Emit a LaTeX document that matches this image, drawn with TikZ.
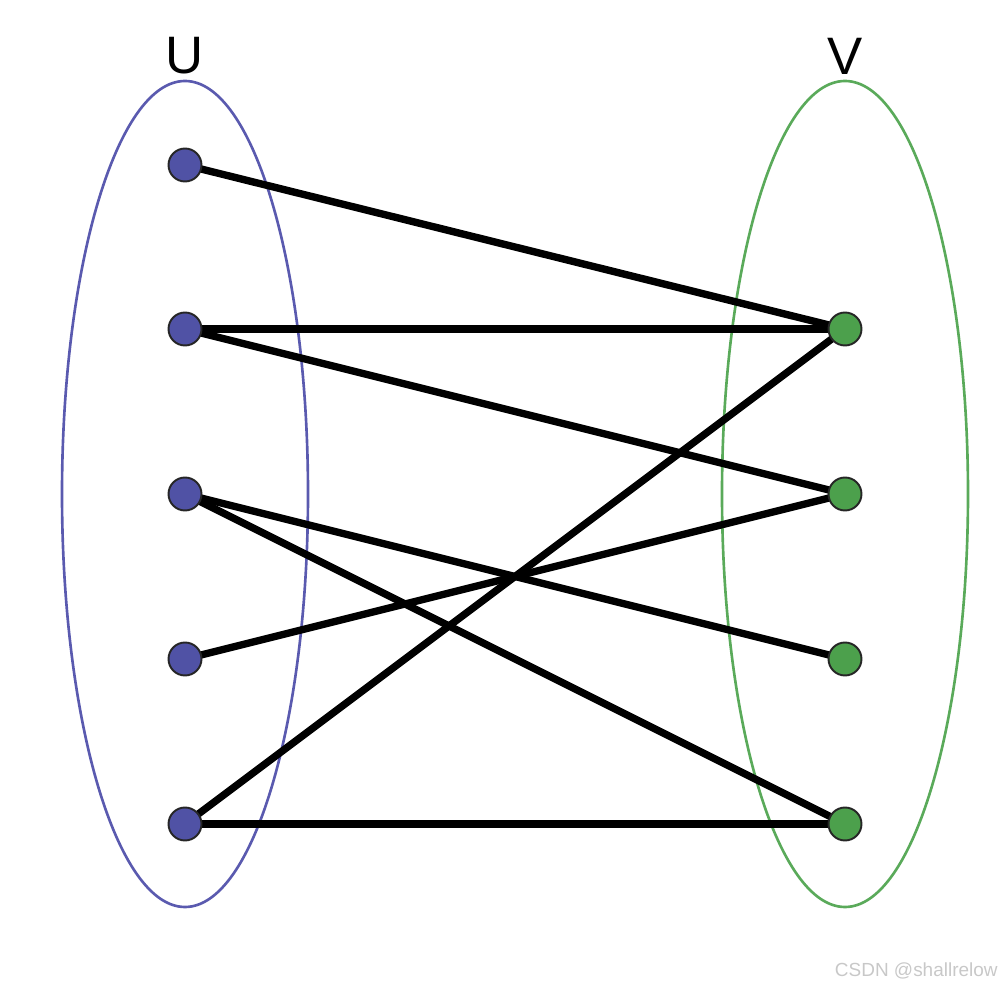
\documentclass[tikz,border=0pt]{standalone}
\usepackage{fontspec}
\setmainfont{Liberation Sans}
\definecolor{ublue}{RGB}{80,82,165}
\definecolor{uline}{RGB}{90,90,175}
\definecolor{vgreen}{RGB}{76,160,76}
\definecolor{vline}{RGB}{90,170,90}
\definecolor{wm}{RGB}{200,200,200}
\begin{document}
\begin{tikzpicture}[x=0.02cm,y=-0.02cm,
  unode/.style={circle,draw=black!85,line width=1.1pt,fill=ublue,minimum size=0.66cm,inner sep=0pt},
  vnode/.style={circle,draw=black!85,line width=1.1pt,fill=vgreen,minimum size=0.66cm,inner sep=0pt},
  edge/.style={line width=4.2pt,black},
  setlabel/.style={font=\fontsize{30}{36}\selectfont,inner sep=0pt}]
\useasboundingbox (0,0) rectangle (1002,989);
\draw[uline,line width=1.5pt] (185,494) ellipse [x radius=123, y radius=-413];
\draw[vline,line width=1.5pt] (845,494) ellipse [x radius=123, y radius=-413];
\node[setlabel] (lu) at (185,56) {U};
\node[setlabel] (lv) at (845,56) {V};
\coordinate (u1p) at (185,165);
\coordinate (u2p) at (185,329);
\coordinate (u3p) at (185,494);
\coordinate (u4p) at (185,659);
\coordinate (u5p) at (185,824);
\coordinate (v1p) at (845,329);
\coordinate (v2p) at (845,494);
\coordinate (v3p) at (845,659);
\coordinate (v4p) at (845,824);
\draw[edge] (u1p) -- (v1p);
\draw[edge] (u2p) -- (v1p);
\draw[edge] (u2p) -- (v2p);
\draw[edge] (u3p) -- (v3p);
\draw[edge] (u3p) -- (v4p);
\draw[edge] (u4p) -- (v2p);
\draw[edge] (u5p) -- (v1p);
\draw[edge] (u5p) -- (v4p);
\node[unode] (u1) at (u1p) {};
\node[unode] (u2) at (u2p) {};
\node[unode] (u3) at (u3p) {};
\node[unode] (u4) at (u4p) {};
\node[unode] (u5) at (u5p) {};
\node[vnode] (v1) at (v1p) {};
\node[vnode] (v2) at (v2p) {};
\node[vnode] (v3) at (v3p) {};
\node[vnode] (v4) at (v4p) {};
\node[text=wm,font=\fontsize{10.8}{12}\selectfont,anchor=east,inner sep=0pt] (wmk) at (998,971) {CSDN @shallrelow};
\end{tikzpicture}
\end{document}
